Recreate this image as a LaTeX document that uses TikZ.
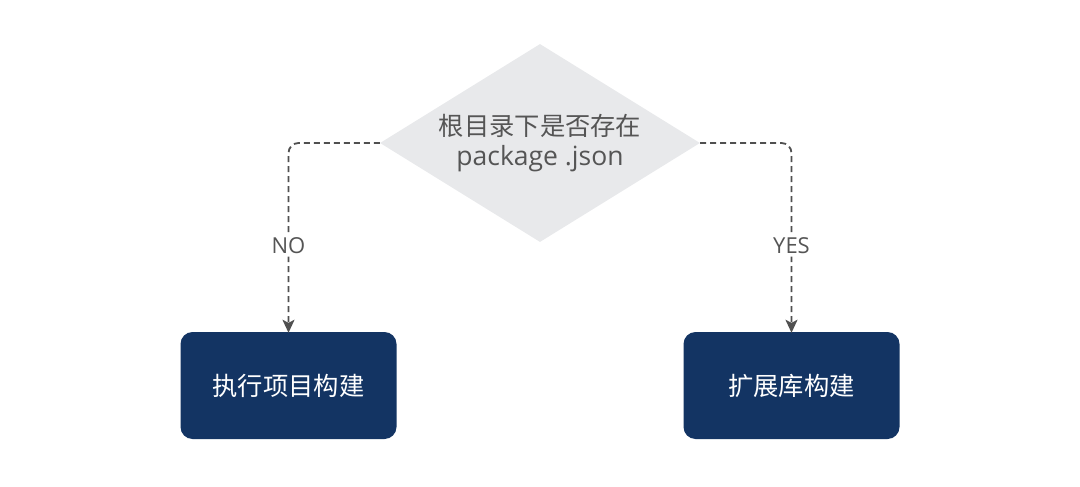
\documentclass[tikz,border=0pt]{standalone}
\usepackage{fontspec}
\setmainfont{Open Sans}
\newfontfamily\cjk{Noto Sans CJK SC}
\usetikzlibrary{shapes.geometric,arrows.meta}
\definecolor{dgray}{HTML}{555555}
\definecolor{lgray}{HTML}{E8E9EB}
\definecolor{navy}{HTML}{133463}
\definecolor{lineg}{HTML}{505050}
\begin{document}
\begin{tikzpicture}[x=1pt,y=-1pt,
  decision/.style={diamond, fill=lgray, draw=none, inner sep=0pt,
    minimum width=320pt, minimum height=198pt, aspect=1.616,
    align=center, text=dgray, font=\fontsize{25.3}{30}\selectfont},
  stepbox/.style={rectangle, rounded corners=12pt, fill=navy, draw=none,
    minimum width=216pt, minimum height=107pt, text=white,
    font=\fontsize{25.3}{30}\selectfont},
  conn/.style={draw=lineg, line width=1.8pt, dash pattern=on 6pt off 4pt,
    rounded corners=10pt, -{Stealth[length=13pt,width=12pt,inset=3pt]}},
  lbl/.style={fill=white, text=dgray, inner sep=3pt, font=\fontsize{22}{24}\selectfont}]
\useasboundingbox (0,0) rectangle (1080,487);
\node[decision] (d) at (540,143) {\cjk 根目录下是否存在\\{\fontsize{26.5}{30}\selectfont package .json}};
\node[stepbox] (l) at (288.5,385.5) {\cjk 执行项目构建};
\node[stepbox] (r) at (791.5,385.5) {\cjk 扩展库构建};
\draw[conn] (d.west) -| ([yshift=-1pt]l.north) node[lbl, pos=0.77] {NO};
\draw[conn] (d.east) -| ([yshift=-1pt]r.north) node[lbl, pos=0.77] {YES};
\end{tikzpicture}
\end{document}
